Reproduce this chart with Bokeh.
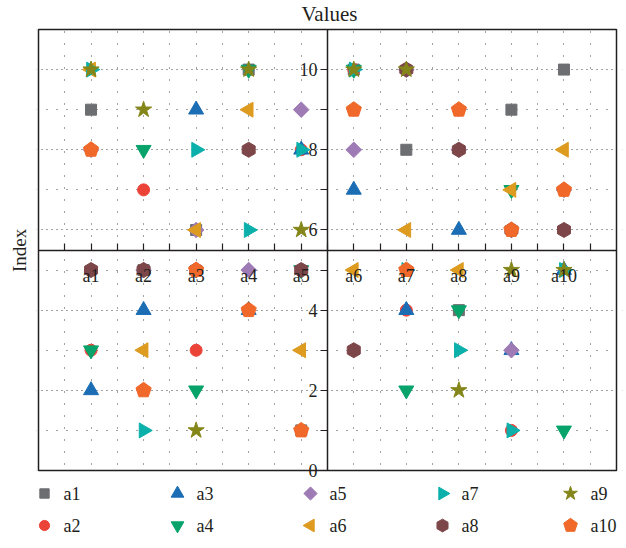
import numpy as np
from bokeh.plotting import figure
from bokeh.core.properties import value
from bokeh.models import FixedTicker, Title, Range1d, BoxAnnotation
from bokeh.embed import file_html
from bokeh.resources import INLINE

# Categories on the horizontal axis
categories = ["a1", "a2", "a3", "a4", "a5", "a6", "a7", "a8", "a9", "a10"]

# One value per category for each series
a1 = [9, 5, 6, 10, 1, 10, 8, 4, 9, 10]
a2 = [3, 7, 3, 4, 8, 10, 4, 9, 1, 7]
a3 = [2, 4, 9, 4, 8, 7, 4, 6, 3, 5]
a4 = [3, 8, 2, 10, 5, 10, 2, 4, 7, 1]
a5 = [8, 5, 6, 5, 9, 8, 10, 8, 3, 7]
a6 = [10, 3, 6, 9, 3, 5, 6, 5, 7, 8]
a7 = [10, 1, 8, 6, 8, 10, 5, 3, 1, 5]
a8 = [5, 5, 5, 8, 5, 3, 10, 8, 6, 6]
a9 = [10, 9, 1, 10, 6, 10, 10, 2, 5, 5]
a10 = [8, 2, 5, 4, 1, 9, 5, 9, 6, 7]

series_names = ["a1", "a2", "a3", "a4", "a5", "a6", "a7", "a8", "a9", "a10"]
series_values = [a1, a2, a3, a4, a5, a6, a7, a8, a9, a10]

y_major = [0, 2, 4, 6, 8, 10]
y_minor = [1, 3, 5, 7, 9, 11]

colors = ["#6d6e71", "#ec4339", "#1b6db4", "#07a36b", "#9e7bb5",
          "#dd9b1f", "#0bb0ab", "#7d4649", "#85861a", "#f0692a"]
# (marker, size, angle); the pentagon is drawn as a regular 5-gon
styles = [("square", 11, 0), ("circle", 12, 0), ("triangle", 15, 0),
          ("inverted_triangle", 15, 0), ("square", 11, np.pi / 4),
          ("triangle", 15, np.pi / 2), ("triangle", 15, -np.pi / 2),
          ("hex", 15, np.pi / 6), ("star", 17, 0), (None, 8, 0)]

SERIF = "Liberation Serif"
INK = "#231f20"
xpos = list(range(1, len(categories) + 1))
xmax = len(categories) + 1
ymax = 11
cross = (len(categories) + 1) / 2

# canvas layout (pixels)
W, H = 626, 548
BOX_L, BOX_R, BOX_T, BOX_B = 38, 616, 29, 470   # the boxed chart area
PAD = 2                                          # frame reaches a little past the box
LEFT, TOP, RIGHT = BOX_L - PAD, BOX_T - PAD, 4
ppu_x = (BOX_R - BOX_L) / xmax
ppu_y = (BOX_B - BOX_T) / ymax
x_start = -PAD / ppu_x
x_end = xmax + (W - RIGHT - BOX_R) / ppu_x
y_start = -(H - BOX_B) / ppu_y
y_end = ymax + PAD / ppu_y

p = figure(width=W, height=H, output_backend="svg", toolbar_location=None,
           x_range=Range1d(x_start, x_end), y_range=Range1d(y_start, y_end),
           min_border_left=LEFT, min_border_right=RIGHT, min_border_top=TOP,
           min_border_bottom=0)
p.background_fill_color = "white"
p.border_fill_color = "white"
p.outline_line_color = None

p.title.text = "Values"
p.title.align = "center"
p.title.vertical_align = "top"
p.title.standoff = 0
p.title.offset = 0
p.title.text_font = SERIF
p.title.text_font_size = "21px"
p.title.text_font_style = "normal"
p.title.text_color = INK
p.title.text_line_height = 0.9

# "Index" centred on the boxed area rather than on the whole frame
index_mid = (BOX_T + BOX_B) / 2
p.add_layout(Title(text="Index", align="left", offset=H - index_mid - 22,
                   text_font=SERIF, text_font_size="19px",
                   text_font_style="normal", text_color=INK, standoff=13), "left")

# axes cross in the middle of the box
xt = FixedTicker(ticks=xpos, minor_ticks=[x - 0.5 for x in xpos] + [xpos[-1] + 0.5])
yt = FixedTicker(ticks=y_major, minor_ticks=y_minor)

xa = p.xaxis[0]
xa.ticker = xt
xa.fixed_location = cross
xa.bounds = (0, xmax)
xa.major_label_overrides = {x: c for x, c in zip(xpos, categories)}
xa.major_tick_in = 7
xa.major_tick_out = 0
xa.minor_tick_in = 7
xa.minor_tick_out = 0
xa.major_label_standoff = 16

ya = p.yaxis[0]
ya.ticker = yt
ya.fixed_location = cross
ya.bounds = (0, ymax)
ya.major_tick_in = 0
ya.major_tick_out = 7
ya.minor_tick_in = 0
ya.minor_tick_out = 7
ya.major_label_standoff = 3

for ax in (xa, ya):
    ax.axis_line_color = INK
    ax.axis_line_width = 1.5
    ax.major_tick_line_color = INK
    ax.minor_tick_line_color = INK
    ax.major_tick_line_width = 1.2
    ax.minor_tick_line_width = 1.2
    ax.major_label_text_font = SERIF
    ax.major_label_text_font_size = "18px"
    ax.major_label_text_color = INK

p.xgrid.ticker = xt
p.ygrid.ticker = yt
p.xgrid.grid_line_color = "#444444"
p.xgrid.grid_line_dash = "1 11"
p.xgrid.minor_grid_line_color = "#444444"
p.xgrid.minor_grid_line_dash = "1 11"
p.ygrid.grid_line_color = "#444444"
p.ygrid.grid_line_dash = "1 4"
p.ygrid.minor_grid_line_color = "#444444"
p.ygrid.minor_grid_line_dash = "1 9"

# blank out the grid outside the box, then draw the box itself
for edge in (dict(top=0), dict(bottom=ymax), dict(right=0), dict(left=xmax)):
    p.add_layout(BoxAnnotation(fill_color="white", fill_alpha=1, line_color=None,
                               level="underlay", **edge))
p.add_layout(BoxAnnotation(left=0, right=xmax, bottom=0, top=ymax,
                           fill_alpha=0, line_color=INK, line_alpha=1,
                           line_width=1.5))


def draw(xs, ys, col, mk, sz, ang):
    if mk is None:
        return p.ngon(x=xs, y=ys, radius=sz, radius_units="screen", n=5,
                      angle=ang, fill_color=col, line_color=col)
    return p.scatter(x=xs, y=ys, marker=mk, size=sz, angle=ang,
                     fill_color=col, line_color=col)


for vals, col, (mk, sz, ang) in zip(series_values, colors, styles):
    draw(xpos, vals, col, mk, sz, ang)

# key: two rows by five columns, filled column by column
KEY_X = [44, 177, 310, 442, 570]
TEXT_X = [63, 196, 329, 461, 590]
ROW_Y = [493, 525]
for i, (name, col, (mk, sz, ang)) in enumerate(zip(series_names, colors, styles)):
    c, r = divmod(i, 2)
    kx = (KEY_X[c] - BOX_L) / ppu_x
    tx = (TEXT_X[c] - BOX_L) / ppu_x
    ky = -(ROW_Y[r] - BOX_B) / ppu_y
    ksz = sz * 0.85 if mk is not None else sz * 0.9
    draw([kx], [ky], col, mk, ksz, ang)
    p.text(x=[tx], y=[ky], text=[name], text_font=value(SERIF),
           text_font_size="18px", text_color=INK, text_baseline="middle",
           text_align="left")

open("out.html", "w").write(file_html(p, INLINE))
